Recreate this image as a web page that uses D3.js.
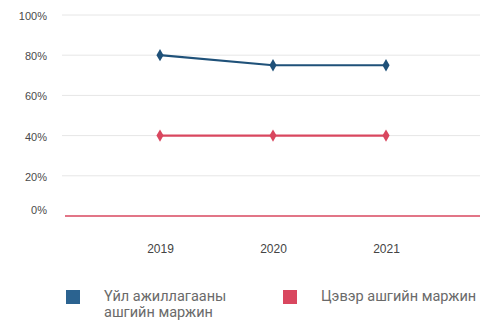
<!DOCTYPE html>
<html><head><meta charset="utf-8">
<script src="https://cdn.jsdelivr.net/npm/d3@7"></script>
<style>body{margin:0;background:#fff;} svg{display:block;font-family:Roboto,"Noto Sans",sans-serif;}</style>
</head><body>
<svg id="c" width="480" height="320"></svg>
<script>
const years = ["2019", "2020", "2021"];
const operatingMargin = [80, 75, 75];
const netMargin = [40, 40, 40];
const yTicks = [0, 20, 40, 60, 80, 100];
const seriesNames = ["Үйл ажиллагааны\nашгийн маржин", "Цэвэр ашгийн маржин"];
const seriesColors = ["#1f5179", "#d9475f"];
const legendColors = ["#2b6390", "#d9475f"];

const svg = d3.select("#c");
const x = d3.scalePoint().domain(years).range([160, 386]);
const y = d3.scaleLinear().domain([0, 100]).range([216, 15]);

// gridlines
svg.append("g").selectAll("line").data(yTicks.filter(d => d > 0)).join("line")
  .attr("x1", 62).attr("x2", 480)
  .attr("y1", d => y(d)).attr("y2", d => y(d))
  .attr("stroke", "#e6e6e6").attr("stroke-width", 1);

// y axis labels
const yAxis = d3.axisLeft(y).tickValues(yTicks).tickFormat(d => d + "%").tickSize(0).tickPadding(0);
const ya = svg.append("g").attr("transform", "translate(47,0)").call(yAxis);
ya.select(".domain").remove();
ya.selectAll("text").attr("fill", "#4a4a4a").style("font-size", "11px")
  .attr("dy", (d) => d === 0 ? "-0.2em" : "0.4em");

// baseline (0%)
svg.append("line").attr("x1", 65).attr("x2", 480)
  .attr("y1", y(0)).attr("y2", y(0))
  .attr("stroke", "#d9475f").attr("stroke-width", 1.6);

// x axis labels
const xAxis = d3.axisBottom(x).tickSize(0).tickPadding(0);
const xa = svg.append("g").attr("transform", "translate(0,253)").call(xAxis);
xa.select(".domain").remove();
xa.selectAll("text").attr("fill", "#444").style("font-size", "12px").style("font-weight", "500").attr("dy", 0);

// series
const series = [operatingMargin, netMargin];
const line = d3.line().x((d, i) => x(years[i])).y(d => y(d));
series.forEach((vals, si) => {
  svg.append("path").datum(vals).attr("d", line)
    .attr("fill", "none").attr("stroke", seriesColors[si]).attr("stroke-width", 2.2);
  svg.append("g").selectAll("path").data(vals).join("path")
    .attr("d", d3.symbol().type(d3.symbolDiamond).size(44))
    .attr("transform", (d, i) => `translate(${x(years[i])},${y(d)})`)
    .attr("fill", seriesColors[si]);
});

// legend
const legendX = [66, 283];
seriesNames.forEach((name, i) => {
  const g = svg.append("g").attr("transform", `translate(${legendX[i]},290)`);
  g.append("rect").attr("width", 14).attr("height", 14).attr("fill", legendColors[i]);
  const t = g.append("text").attr("x", 38).attr("y", 11).attr("fill", "#6a6a6a").style("font-size", "14.5px");
  name.split("\n").forEach((ln, k) => {
    t.append("tspan").attr("x", 38).attr("dy", k === 0 ? 0 : 16).text(ln);
  });
});
</script>
</body></html>
